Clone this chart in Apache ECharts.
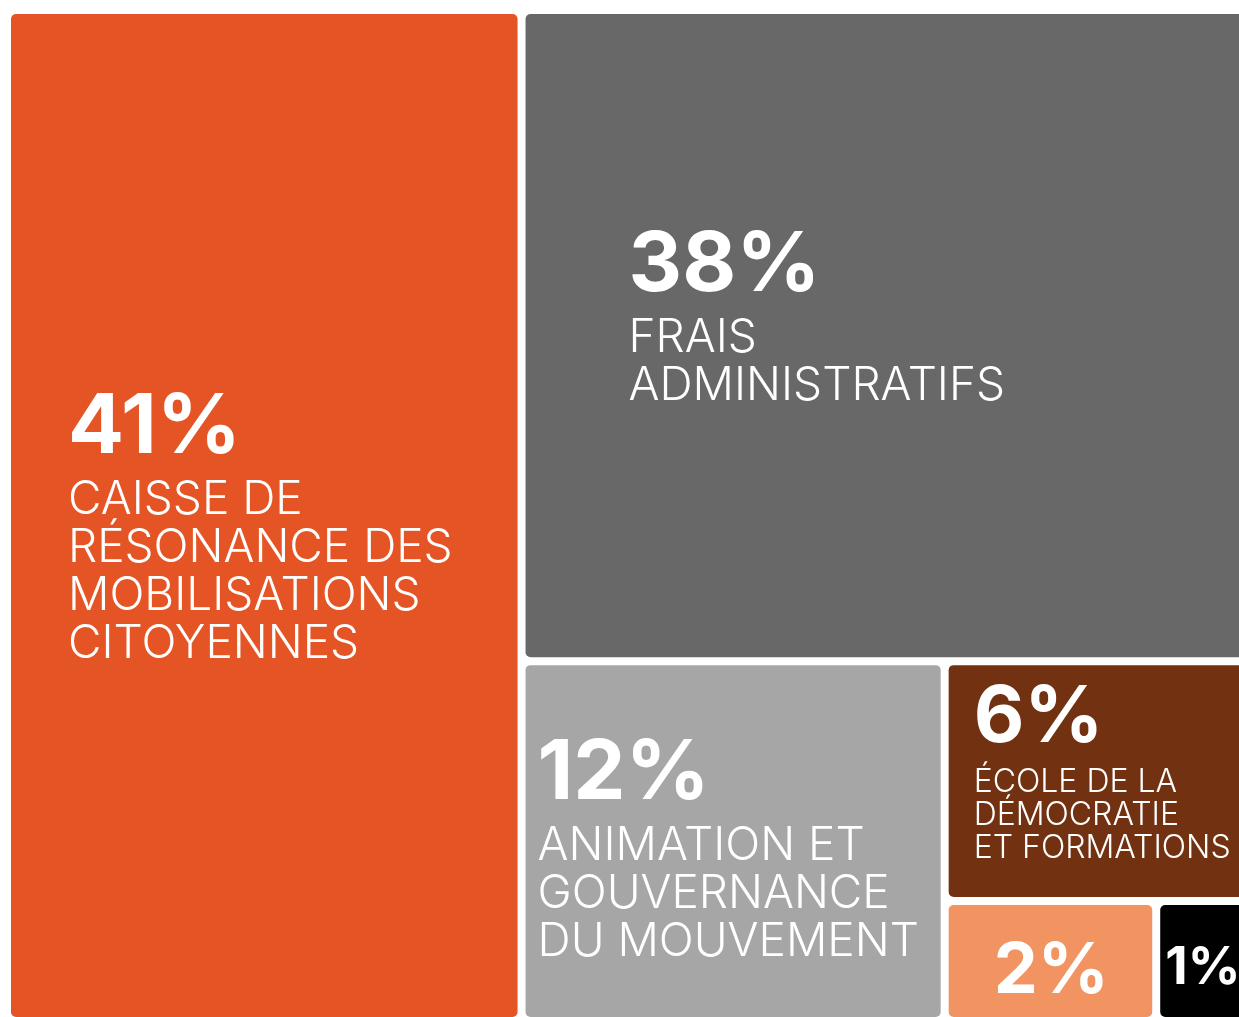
<!DOCTYPE html>
<html>
<head>
<meta charset="utf-8">
<script src="https://cdn.jsdelivr.net/npm/echarts@6/dist/echarts.min.js"></script>
<style>
  html, body { margin: 0; padding: 0; background: #fff; }
  #chart { width: 1239px; height: 1017px; }
</style>
</head>
<body>
<div id="chart"></div>
<script>
// postes du budget (les deux derniers n'ont pas de libellé visible)
const categories = [
  'CAISSE DE\nRÉSONANCE DES\nMOBILISATIONS\nCITOYENNES',
  'FRAIS\nADMINISTRATIFS',
  'ANIMATION ET\nGOUVERNANCE\nDU MOUVEMENT',
  'ÉCOLE DE LA\nDÉMOCRATIE\nET FORMATIONS',
  '',
  ''
]
const shares = [41, 38, 12, 6, 2, 1]
const colors = ['#E55424', '#686868', '#A6A6A6', '#723211', '#F29461', '#000000']

// placement du libellé dans chaque bloc (px depuis le coin haut gauche) et tailles
const labelBoxes = [
  { dx: 57, dy: 366, pct: 83, pctLine: 96, txt: 46, txtLine: 48 },
  { dx: 103, dy: 204, pct: 83, pctLine: 96, txt: 46, txtLine: 48 },
  { dx: 12, dy: 61, pct: 83, pctLine: 96, txt: 46, txtLine: 48 },
  { dx: 25, dy: 5, pct: 78, pctLine: 96, txt: 32, txtLine: 33 },
  { dx: 45, dy: 31, pct: 70, pctLine: 72, txt: 30, txtLine: 33 },
  { dx: 5, dy: 33, pct: 52, pctLine: 60, txt: 30, txtLine: 33 }
]

const chart = echarts.init(document.getElementById('chart'))

const data = shares.map((v, i) => {
  const b = labelBoxes[i]
  return {
    name: categories[i] || 'poste ' + (i + 1),
    value: v,
    itemStyle: { color: colors[i] },
    label: {
      position: [b.dx, b.dy],
      formatter: () => {
        let s = '{pct|' + v + '%}'
        if (categories[i]) s += '\n{txt|' + categories[i] + '}'
        return s
      },
      rich: {
        pct: { fontSize: b.pct, lineHeight: b.pctLine, fontWeight: 700, fontFamily: 'Inter', color: '#fff' },
        txt: { fontSize: b.txt, lineHeight: b.txtLine, fontWeight: 300, fontFamily: 'Inter', color: '#fff' }
      }
    }
  }
})

chart.setOption({
  animation: false,
  series: [{
    type: 'treemap',
    left: 11,
    top: 14,
    width: 1247,
    height: 1003,
    roam: false,
    nodeClick: false,
    squareRatio: 1,
    breadcrumb: { show: false },
    itemStyle: {
      gapWidth: 8,
      borderWidth: 0,
      borderRadius: 5
    },
    label: {
      show: true,
      padding: 0,
      overflow: 'none',
      lineOverflow: 'none',
      align: 'left',
      verticalAlign: 'top'
    },
    emphasis: { disabled: true },
    data: data
  }]
})
</script>
</body>
</html>
